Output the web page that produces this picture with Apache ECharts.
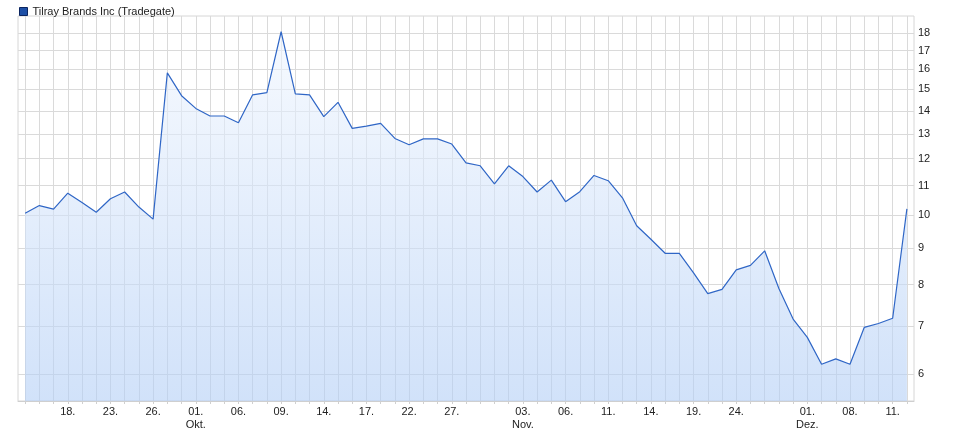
<!DOCTYPE html>
<html>
<head>
<meta charset="utf-8">
<script src="https://cdn.jsdelivr.net/npm/echarts@6/dist/echarts.min.js"></script>
<style>html,body{margin:0;padding:0;background:#fff}#c{width:956px;height:431px}</style>
</head>
<body>
<div id="c"></div>
<script>
const seriesName = 'Tilray Brands Inc (Tradegate)';
const dates = [
 '2025-09-15','2025-09-16','2025-09-17','2025-09-18','2025-09-19','2025-09-22','2025-09-23','2025-09-24','2025-09-25','2025-09-26',
 '2025-09-29','2025-09-30','2025-10-01','2025-10-02','2025-10-03','2025-10-06','2025-10-07','2025-10-08','2025-10-09','2025-10-10',
 '2025-10-13','2025-10-14','2025-10-15','2025-10-16','2025-10-17','2025-10-20','2025-10-21','2025-10-22','2025-10-23','2025-10-24',
 '2025-10-27','2025-10-28','2025-10-29','2025-10-30','2025-10-31','2025-11-03','2025-11-04','2025-11-05','2025-11-06','2025-11-07',
 '2025-11-10','2025-11-11','2025-11-12','2025-11-13','2025-11-14','2025-11-17','2025-11-18','2025-11-19','2025-11-20','2025-11-21',
 '2025-11-24','2025-11-25','2025-11-26','2025-11-27','2025-11-28','2025-12-01','2025-12-02','2025-12-03','2025-12-08','2025-12-09',
 '2025-12-10','2025-12-11','2025-12-12'
];
const prices = [
 10.07,10.32,10.20,10.74,10.42,10.10,10.55,10.78,10.27,9.88,
 15.82,14.70,14.11,13.77,13.77,13.47,14.74,14.85,18.06,14.79,
 14.74,13.74,14.39,13.23,13.33,13.45,12.81,12.55,12.79,12.79,
 12.58,11.84,11.73,11.07,11.73,11.33,10.78,11.20,10.45,10.79,
 11.37,11.18,10.58,9.67,9.26,8.85,8.85,8.31,7.77,7.88,
 8.39,8.51,8.92,7.90,7.16,6.75,6.19,6.30,6.19,6.97,
 7.06,7.18,10.21
];
const tickDates = ['2025-09-18','2025-09-23','2025-09-26','2025-10-01','2025-10-06','2025-10-09','2025-10-14','2025-10-17','2025-10-22','2025-10-27',
 '2025-11-03','2025-11-06','2025-11-11','2025-11-14','2025-11-19','2025-11-24','2025-12-01','2025-12-08','2025-12-11'];
const monthNames = {'10':'Okt.','11':'Nov.','12':'Dez.'};
const yTicks = [6,7,8,9,10,11,12,13,14,15,16,17,18];

const data = prices.map((v,i)=>[i,v]);
const allIdx = dates.map((d,i)=>i);
const labelIdx = tickDates.map(d=>dates.indexOf(d));
const seenMonths = {};
const monthLabelAt = {};
tickDates.forEach(d=>{
  const m = d.slice(5,7);
  if (!seenMonths[m]) { seenMonths[m] = true; if (monthNames[m]) monthLabelAt[d] = monthNames[m]; }
});

const chart = echarts.init(document.getElementById('c'), null, {renderer:'canvas'});
chart.setOption({
  animation:false,
  textStyle:{fontFamily:'Liberation Sans, Arial, sans-serif'},
  legend:{
    left:14, top:1, icon:'rect', itemWidth:8, itemHeight:8, itemGap:10,
    textStyle:{fontSize:11, color:'#222', fontFamily:'Liberation Sans, Arial, sans-serif'},
    data:[{name:seriesName, itemStyle:{color:'#1d4fa6', borderColor:'#0b2560', borderWidth:1}}]
  },
  grid:{left:18, right:42, top:16, bottom:30, show:true, borderColor:'#d6d6d6', borderWidth:1, backgroundColor:'#fff'},
  xAxis:{
    type:'value', min:-0.5, max:dates.length-0.5,
    axisLine:{show:true, lineStyle:{color:'#cfcfcf'}},
    axisTick:{show:true, length:3, lineStyle:{color:'#d0d0d0'}, customValues:allIdx},
    splitLine:{show:true, lineStyle:{color:'#dadada', width:1}},
    axisLabel:{
      customValues:labelIdx, margin:4, fontSize:11, color:'#222', lineHeight:13,
      formatter:function(v){
        const d = dates[Math.round(v)];
        if (!d) return '';
        const day = d.slice(8,10) + '.';
        return monthLabelAt[d] ? day + '\n' + monthLabelAt[d] : day;
      }
    }
  },
  yAxis:{
    type:'log', position:'right', min:5.5, max:19, logBase:10,
    axisLine:{show:false},
    axisTick:{show:false, customValues:yTicks},
    splitLine:{show:true, lineStyle:{color:'#dadada', width:1}},
    axisLabel:{customValues:yTicks, margin:4, fontSize:11, color:'#222', formatter:function(v){return String(Math.round(v));}}
  },
  series:[{
    name:seriesName, type:'line', data:data, showSymbol:false, symbol:'none',
    itemStyle:{color:'#1d4fa6'},
    lineStyle:{color:'#2f66c6', width:1.2},
    areaStyle:{color:new echarts.graphic.LinearGradient(0,0,0,1,[{offset:0,color:'rgba(240,246,254,0.85)'},{offset:1,color:'rgba(178,206,246,0.85)'}])}
  }]
});
</script>
</body>
</html>
